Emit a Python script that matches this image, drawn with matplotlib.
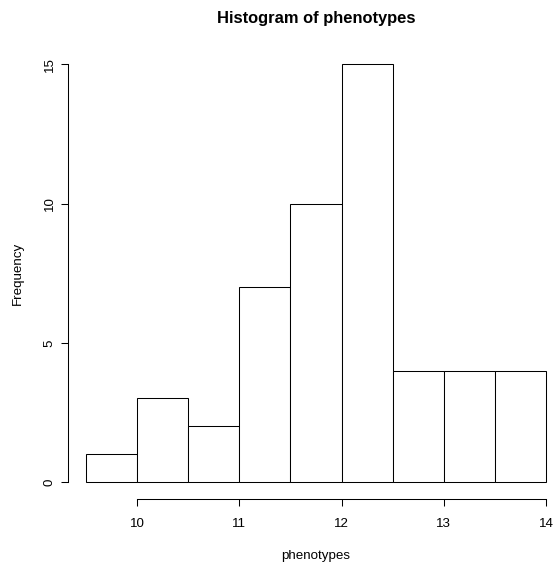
import matplotlib
matplotlib.use("Agg")
import matplotlib.pyplot as plt

# Data
bin_edges = [9.5, 10.0, 10.5, 11.0, 11.5, 12.0, 12.5, 13.0, 13.5, 14.0]
counts = [1, 3, 2, 7, 10, 15, 4, 4, 4]
x_ticks = [10, 11, 12, 13, 14]
y_ticks = [0, 5, 10, 15]
title = "Histogram of phenotypes"
xlabel = "phenotypes"
ylabel = "Frequency"

W, H = 553, 563
DPI = 100
plt.rcParams['font.family'] = ['Liberation Sans', 'DejaVu Sans']
FS = 9.6

fig = plt.figure(figsize=(W / DPI, H / DPI), dpi=DPI)
left, right, top, bottom = 67.7, 564.4, 47.6, 498.7
ax = fig.add_axes([left / W, 1 - bottom / H, (right - left) / W, (bottom - top) / H])

lefts = bin_edges[:-1]
widths = [bin_edges[i + 1] - bin_edges[i] for i in range(len(counts))]
ax.bar(lefts, counts, width=widths, align='edge', facecolor='white',
       edgecolor='black', linewidth=0.75)

xmin, xmax = bin_edges[0], bin_edges[-1]
dx = (xmax - xmin) * 0.04
ax.set_xlim(xmin - dx, xmax + dx)
ymax = max(counts)
dy = ymax * 0.04
ax.set_ylim(-dy, ymax + dy)

for s in ['top', 'right']:
    ax.spines[s].set_visible(False)
ax.spines['bottom'].set_bounds(x_ticks[0], x_ticks[-1])
ax.spines['left'].set_bounds(y_ticks[0], y_ticks[-1])
for s in ['bottom', 'left']:
    ax.spines[s].set_linewidth(0.75)

ax.set_xticks(x_ticks)
ax.set_xticklabels([str(t) for t in x_ticks])
ax.set_yticks(y_ticks)
ax.set_yticklabels([str(t) for t in y_ticks])
ax.tick_params(axis='both', length=5.0, width=0.75, labelsize=FS, color='black')
ax.tick_params(axis='x', pad=9.0)
ax.tick_params(axis='y', pad=3.8, labelrotation=90)
for lab in ax.get_yticklabels():
    lab.set_va('center')

fig.text(316 / W, 1 - 19 / H, title, ha='center', va='center',
         fontsize=11.9, fontweight='bold')
fig.text(316 / W, 1 - 559.5 / H, xlabel, ha='center', va='baseline', fontsize=FS)
fig.text(21 / W, 1 - 273 / H, ylabel, ha='center', va='baseline', rotation=90,
         fontsize=FS, rotation_mode='anchor')

fig.savefig("out.png", dpi=DPI)
